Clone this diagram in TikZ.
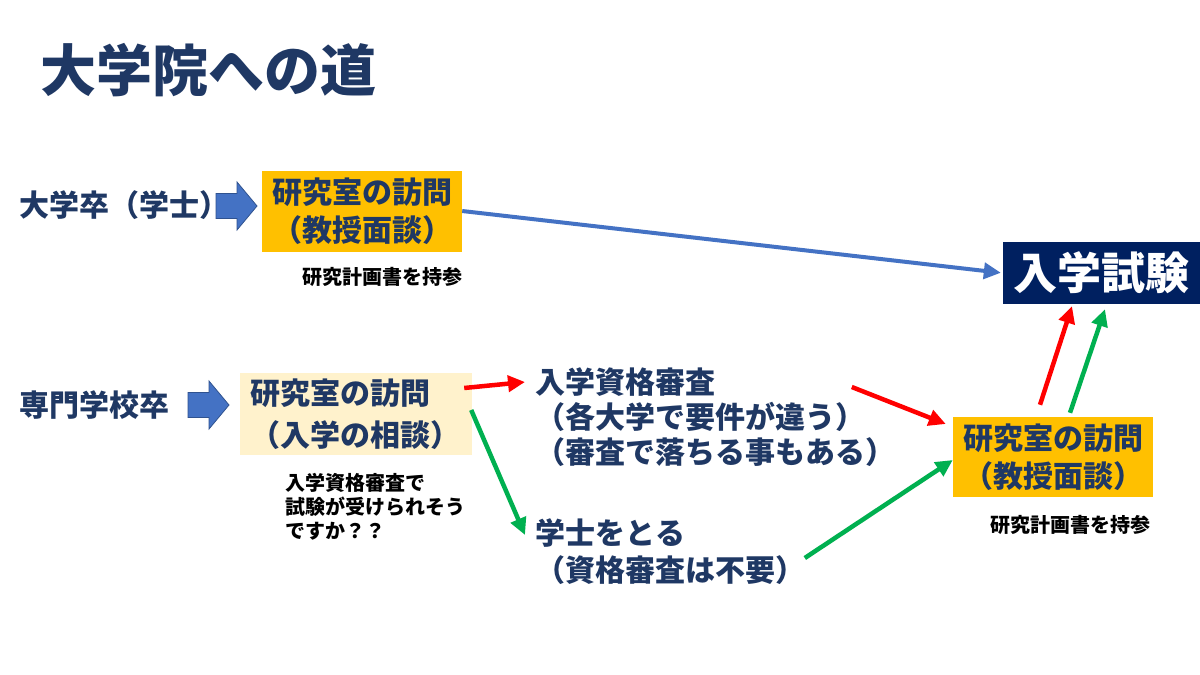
\documentclass[tikz,border=0pt]{standalone}
\usepackage{fontspec}
\setmainfont{Noto Sans CJK JP}
\usetikzlibrary{arrows.meta,calc}
\definecolor{navy}{HTML}{1F3864}
\definecolor{examblue}{HTML}{002060}
\definecolor{orangebox}{HTML}{FFC000}
\definecolor{lightbox}{HTML}{FFF2CC}
\definecolor{barrow}{HTML}{4472C4}
\definecolor{barrowedge}{HTML}{2F528F}
\definecolor{linkblue}{HTML}{4472C4}
\definecolor{linkred}{HTML}{FF0000}
\definecolor{linkgreen}{HTML}{00B050}
\tikzset{
  big/.style={font=\bfseries\fontsize{30}{38}\selectfont, text=navy},
  boxnode/.style={big, align=center, minimum width=200pt, minimum height=81pt, inner sep=0pt},
  note/.style={font=\bfseries\fontsize{20}{24}\selectfont, text=black, inner sep=0pt},
  plain/.style={big, inner sep=0pt, anchor=west},
  link/.style={line width=4.5pt, -{Triangle[length=17pt,width=16pt]}},
  blockarrow/.pic={\filldraw[fill=barrow, draw=barrowedge, line width=0.8pt]
     (0,-12.5) -- (21,-12.5) -- (21,-24) -- (41,0) -- (21,24) -- (21,12.5) -- (0,12.5) -- cycle;}
}
\begin{document}
\begin{tikzpicture}[x=1pt,y=-1pt]
\useasboundingbox (0,0) rectangle (1200,675);
\fill[white] (0,0) rectangle (1200,675);
% title
\node[anchor=west, inner sep=0pt, text=navy, font=\bfseries\fontsize{56}{62}\selectfont] (title) at (40,70) {大学院への道};
% row 1
\node[plain] (l1) at (19,205) {大学卒（学士）};
\pic at (216,206) {blockarrow};
\node[boxnode, fill=orangebox] (v1) at (362,211) {研究室の訪問\\（教授面談）};
\node[note] (n1) at (382,277) {研究計画書を持参};
% exam
\node[fill=examblue, text=white, font=\bfseries\fontsize{44}{50}\selectfont, minimum width=197pt, minimum height=62pt, inner sep=0pt] (exam) at (1101.5,273) {入学試験};
% row 2
\node[plain] (l2) at (19,405) {専門学校卒};
\pic at (188,405) {blockarrow};
\node[big, fill=lightbox, align=left, text width=212pt, inner xsep=10pt, inner ysep=0pt, minimum height=82pt, font=\bfseries\fontsize{30}{42}\selectfont] (v2) at (356,414) {研究室の訪問\\（入学の相談）};
\node[note, anchor=west, align=left] (n2) at (285,507) {入学資格審査で\\試験が受けられそう\\ですか？？};
\node[plain, align=left, font=\bfseries\fontsize{30}{35}\selectfont] (r1) at (535,417) {入学資格審査\\（各大学で要件が違う）\\（審査で落ちる事もある）};
\node[plain, align=left, font=\bfseries\fontsize{30}{37}\selectfont] (r2) at (535,552) {学士をとる\\（資格審査は不要）};
\node[boxnode, fill=orangebox, minimum height=80pt] (v3) at (1053,457) {研究室の訪問\\（教授面談）};
\node[note] (n3) at (1070,525) {研究計画書を持参};
% connectors
\draw[link, linkblue, line width=4pt, shorten >=2pt] (v1.east) -- (exam.west);
\draw[link, linkred] ($(v2.east)+(-8,-26)$) -- ($(r1.west)+(-10,-35)$);
\draw[link, linkgreen] ($(v2.east)+(-1,-4)$) -- ($(r2.west)+(-10,-17)$);
\draw[link, linkred] ($(v3.west)+(-101,-70)$) -- ($(v3.west)+(-7,-33)$);
\draw[link, linkgreen] ($(v3.west)+(-148,101)$) -- ($(v3.west)+(0,3)$);
\draw[link, linkred] ($(v3.north)+(-13,-12)$) -- ($(exam.south)+(-29.5,2)$);
\draw[link, linkgreen] ($(v3.north)+(17,-4)$) -- ($(exam.south)+(3.5,5)$);
\end{tikzpicture}
\end{document}
